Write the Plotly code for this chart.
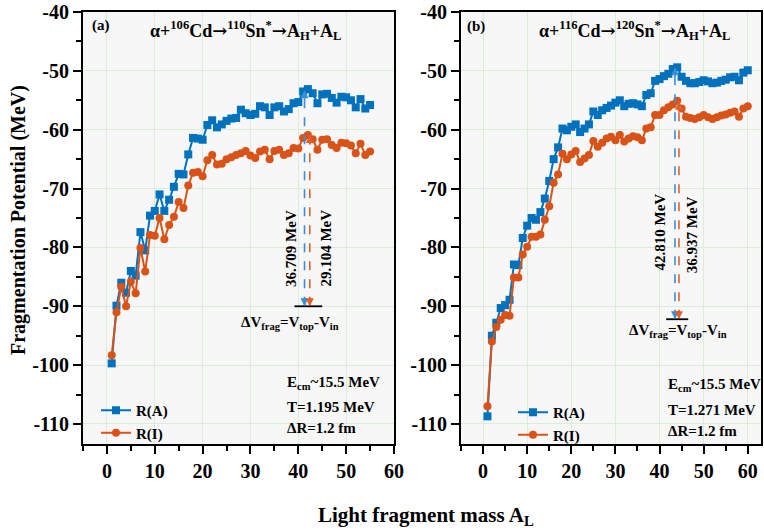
import plotly.graph_objects as go

# ---------------- data ----------------
A_a = list(range(1, 56))
RA_a = [-99.7, -89.9, -86.0, -87.7, -84.0, -84.8, -77.4, -80.5, -74.6, -73.8,
        -71.0, -73.8, -71.9, -69.7, -67.5, -67.6, -64.2, -61.4, -61.5, -61.7,
        -59.2, -58.4, -59.6, -59.1, -58.5, -58.1, -58.0, -56.6, -57.2, -57.5,
        -57.3, -56.0, -56.2, -57.5, -56.2, -56.0, -56.9, -56.5, -55.5, -55.3,
        -53.5, -53.1, -53.8, -55.5, -54.0, -53.9, -54.6, -55.4, -54.4, -54.5,
        -55.0, -56.2, -54.8, -56.4, -55.8]
RI_a = [-98.3, -91.0, -86.7, -90.0, -85.8, -87.8, -80.1, -84.1, -77.9, -78.0,
        -75.0, -78.6, -76.2, -74.8, -72.3, -73.3, -69.5, -67.3, -67.2, -67.9,
        -65.2, -64.3, -65.9, -65.8, -65.0, -64.7, -64.3, -64.0, -63.6, -64.4,
        -64.8, -63.7, -63.4, -65.0, -63.6, -63.4, -64.3, -64.0, -63.1, -63.2,
        -61.4, -60.9, -61.6, -63.4, -61.7, -61.6, -62.6, -63.1, -62.2, -62.3,
        -62.7, -64.0, -62.4, -64.3, -63.7]

A_b = list(range(1, 61))
RA_b = [-108.7, -95.0, -92.8, -90.3, -89.8, -88.9, -82.9, -83.0, -78.4, -76.3,
        -75.0, -75.3, -74.0, -71.7, -68.7, -65.0, -63.0, -59.8, -60.1, -59.5,
        -59.1, -60.4, -59.8, -59.1, -56.9, -57.5, -56.7, -56.3, -55.9, -55.4,
        -55.0, -56.0, -55.6, -55.5, -55.7, -56.0, -54.1, -53.8, -51.7, -51.4,
        -50.9, -50.5, -49.7, -49.4, -51.0, -51.7, -52.1, -52.1, -51.9, -51.6,
        -51.8, -52.1, -52.0, -51.7, -51.5, -51.1, -51.0, -51.6, -50.3, -49.9]
RI_b = [-107.0, -96.0, -93.5, -92.3, -91.5, -91.6, -85.1, -85.1, -81.2, -79.9,
        -78.2, -78.2, -77.8, -75.3, -73.0, -69.0, -67.6, -64.1, -65.0, -64.2,
        -63.6, -65.5, -64.9, -64.3, -61.9, -62.9, -62.2, -61.5, -61.2, -61.8,
        -60.9, -62.0, -61.5, -61.1, -61.3, -61.8, -59.8, -59.6, -57.5, -57.5,
        -56.7, -56.2, -55.7, -55.1, -56.4, -57.8, -58.0, -58.2, -57.9, -57.5,
        -57.9, -58.2, -57.9, -57.6, -57.4, -57.1, -56.9, -57.8, -56.4, -56.0]

# barrier arrows: (x position, V_in, delta V)
arrow_x_a = [41.3, 42.4]
vin_a = -90.0
dv_a = [36.709, 29.104]
arrow_x_b = [43.5, 44.4]
vin_b = -92.2
dv_b = [42.810, 36.937]

x_tickvals = [0, 10, 20, 30, 40, 50, 60]
x_ticktext = ["0", "10", "20", "30", "40", "50", "60"]
y_tickvals = [-40, -50, -60, -70, -80, -90, -100, -110]
y_ticktext = ["-40", "-50", "-60", "-70", "-80", "-90", "-100", "-110"]

BLUE = "#0072BD"
ORANGE = "#D95319"
BLUE_D = "#3d8fd1"
ORANGE_D = "#e0602a"
FONT = "Liberation Serif"

fig = go.Figure()

def add_series(x, y, name, color, symbol, xa, ya, legend):
    fig.add_trace(go.Scatter(
        x=x, y=y, name=name, mode="lines+markers",
        line=dict(color=color, width=2),
        marker=dict(color=color, symbol=symbol, size=8),
        xaxis=xa, yaxis=ya, legend=legend))

add_series(A_a, RA_a, "R(A)", BLUE, "square", "x", "y", "legend")
add_series(A_a, RI_a, "R(I)", ORANGE, "circle", "x", "y", "legend")
add_series(A_b, RA_b, "R(A)", BLUE, "square", "x2", "y2", "legend2")
add_series(A_b, RI_b, "R(I)", ORANGE, "circle", "x2", "y2", "legend2")

ann = []
shapes = []

def bfont(size):
    return dict(family=FONT, size=size, color="black", weight="bold")

def arrows(xs, vin, dvs, xr, yr, hline):
    for xv, dv, col in zip(xs, dvs, [BLUE_D, ORANGE_D]):
        top = vin + dv
        shapes.append(dict(type="line", xref=xr, yref=yr, x0=xv, x1=xv, y0=vin, y1=top,
                           line=dict(color=col, width=1.6, dash="dash")))
        for tip, off in [(vin, -11), (top, 11)]:
            ann.append(dict(x=xv, y=tip, xref=xr, yref=yr, text="", showarrow=True,
                            ax=0, ay=off, arrowhead=2, arrowsize=1, arrowwidth=1.6,
                            arrowcolor=col))
    shapes.append(dict(type="line", xref=xr, yref=yr, x0=hline[0], x1=hline[1],
                       y0=vin, y1=vin, line=dict(color="black", width=1.8)))

arrows(arrow_x_a, vin_a, dv_a, "x", "y", (39.2, 45.0))
arrows(arrow_x_b, vin_b, dv_b, "x2", "y2", (41.5, 46.5))

# MeV labels
for (xv, yv, v, xr, yr) in [(38.45, -80.1, dv_a[0], "x", "y"), (45.7, -80.1, dv_a[1], "x", "y"),
                            (40.2, -77.4, dv_b[0], "x2", "y2"), (47.4, -77.9, dv_b[1], "x2", "y2")]:
    ann.append(dict(x=xv, y=yv, xref=xr, yref=yr, text=f"{v:.3f} MeV", showarrow=False,
                    textangle=-90, font=bfont(15)))

# Delta V text
dvtext = "ΔV<sub>frag</sub>=V<sub>top</sub>-V<sub>in</sub>"
ann.append(dict(x=38.3, y=-92.9, xref="x", yref="y", text=dvtext, showarrow=False, font=bfont(15)))
ann.append(dict(x=44.1, y=-94.2, xref="x2", yref="y2", text=dvtext, showarrow=False, font=bfont(15)))

# titles in panels
ARR = "<span style=\"font-family:'DejaVu Serif'\">→</span>"
ann.append(dict(x=28.9, y=-43.2, xref="x", yref="y",
                text=f"α+<sup>106</sup>Cd{ARR}<sup>110</sup>Sn<sup>*</sup>{ARR}A<sub>H</sub>+A<sub>L</sub>",
                showarrow=False, font=bfont(18)))
ann.append(dict(x=34.3, y=-43.2, xref="x2", yref="y2",
                text=f"α+<sup>116</sup>Cd{ARR}<sup>120</sup>Sn<sup>*</sup>{ARR}A<sub>H</sub>+A<sub>L</sub>",
                showarrow=False, font=bfont(18)))
ann.append(dict(x=-3.6, y=-42.3, xref="x", yref="y", text="(a)", showarrow=False,
                xanchor="left", font=bfont(15)))
ann.append(dict(x=-4.2, y=-42.5, xref="x2", yref="y2", text="(b)", showarrow=False,
                xanchor="left", font=bfont(15)))

# parameter blocks
for (xv, ys, T, xr, yr) in [(37.3, [-103.0, -107.1, -110.7], "1.195", "x", "y"),
                            (41.5, [-103.4, -107.6, -111.2], "1.271", "x2", "y2")]:
    lines = ["E<sub>cm</sub>~15.5 MeV", f"T={T} MeV", "ΔR=1.2 fm"]
    for yv, t in zip(ys, lines):
        ann.append(dict(x=xv, y=yv, xref=xr, yref=yr, text=t, showarrow=False,
                        xanchor="left", yanchor="middle", font=bfont(15)))

# axis titles
ann.append(dict(x=426 / 764, y=1 - 516 / 532, xref="paper", yref="paper",
                xanchor="center", yanchor="middle",
                text="Light fragment mass A<sub>L</sub>", showarrow=False, font=bfont(21)))
ann.append(dict(x=19 / 764, y=1 - 220 / 532, xref="paper", yref="paper",
                xanchor="center", yanchor="middle",
                text="Fragmentation Potential (MeV)", showarrow=False, textangle=-90,
                font=bfont(20)))

ydom = [1 - 444 / 532, 1 - 12 / 532]

def xaxis(dom, rng, anchor):
    return dict(domain=dom, range=rng, anchor=anchor, tickvals=x_tickvals, ticktext=x_ticktext,
                showline=True, linecolor="black", linewidth=2, mirror=True, automargin=False,
                ticks="outside", ticklen=8, tickwidth=2, tickcolor="black",
                minor=dict(ticks="outside", dtick=5, tick0=0, ticklen=5, tickwidth=2,
                           tickcolor="black", showgrid=False),
                showgrid=True, gridcolor="#dcecd8", gridwidth=1, zeroline=False,
                tickfont=bfont(20))

def yaxis(rng, anchor):
    return dict(domain=ydom, range=rng, anchor=anchor, tickvals=y_tickvals, ticktext=y_ticktext,
                showline=True, linecolor="black", linewidth=2, mirror=True, automargin=False,
                ticks="outside", ticklen=8, tickwidth=2, tickcolor="black",
                minor=dict(ticks="outside", dtick=5, tick0=0, ticklen=5, tickwidth=2,
                           tickcolor="black", showgrid=False),
                showgrid=True, gridcolor="#dcecd8", gridwidth=1, zeroline=False,
                tickfont=bfont(20))

legend_common = dict(font=bfont(15), bgcolor="rgba(0,0,0,0)", borderwidth=0,
                     xanchor="left", yanchor="top", tracegroupgap=0, itemwidth=30)

fig.update_layout(
    width=764, height=532,
    margin=dict(l=0, r=0, t=0, b=0, autoexpand=False),
    paper_bgcolor="white", plot_bgcolor="#f7f7f7",
    xaxis=xaxis([83 / 764, 394 / 764], [-5, 60], "y"),
    yaxis=yaxis([-113.4, -40], "x"),
    xaxis2=xaxis([461 / 764, 761 / 764], [-5, 63], "y2"),
    yaxis2=yaxis([-113.4, -40], "x2"),
    legend=dict(x=96 / 764, y=1 - 394 / 532, **legend_common),
    legend2=dict(x=513 / 764, y=1 - 396 / 532, **legend_common),
    annotations=ann, shapes=shapes,
    font=dict(family=FONT, color="black"),
)

fig.write_html("out.html", config={"displayModeBar": False},
               post_script="document.body.style.margin='0';document.body.style.overflow='hidden';")
